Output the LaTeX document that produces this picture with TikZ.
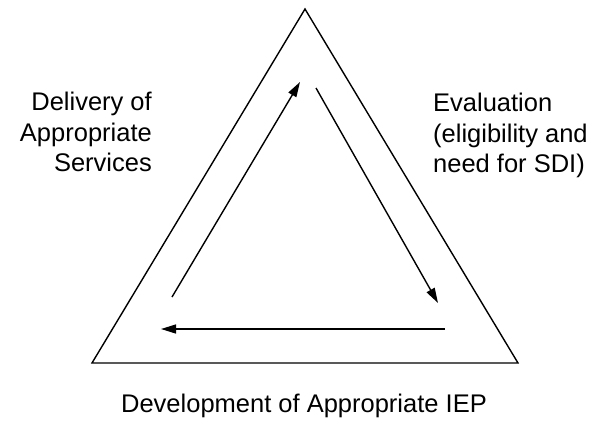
\documentclass[tikz,border=0pt]{standalone}
\usepackage{fontspec}
\setmainfont{Liberation Sans}
\usetikzlibrary{arrows.meta}
\begin{document}
\begin{tikzpicture}[x=1pt,y=-1pt,
  edge/.style={line width=1.4pt},
  flow/.style={line width=1.4pt,-{Triangle[length=15pt,width=9pt]}},
  label/.style={inner sep=0pt,font=\fontsize{25.5}{30.5}\selectfont}]
\useasboundingbox (0,0) rectangle (595,432);
% outer triangle
\coordinate (apex) at (305,9);
\coordinate (bl) at (92,363);
\coordinate (br) at (518,363);
\draw[edge,line join=miter] (apex) -- (br) -- (bl) -- cycle;
% cycle arrows
\coordinate (upS) at (172,297);
\coordinate (upE) at (300,82);
\coordinate (dnS) at (316,88);
\coordinate (dnE) at (438,303);
\coordinate (btS) at (445,329);
\coordinate (btE) at (161,329);
\draw[flow] (upS) -- (upE);
\draw[flow] (dnS) -- (dnE);
\draw[flow] (btS) -- (btE);
% stage labels
\node[label,align=right,anchor=north east] (delivery) at (152,92)
  {Delivery of\\Appropriate\\Services};
\node[label,align=left,anchor=north west] (evaluation) at (433,93)
  {Evaluation\\(eligibility and\\need for SDI)};
\node[label,anchor=base] (development) at (304,412)
  {Development of Appropriate IEP};
\end{tikzpicture}
\end{document}
